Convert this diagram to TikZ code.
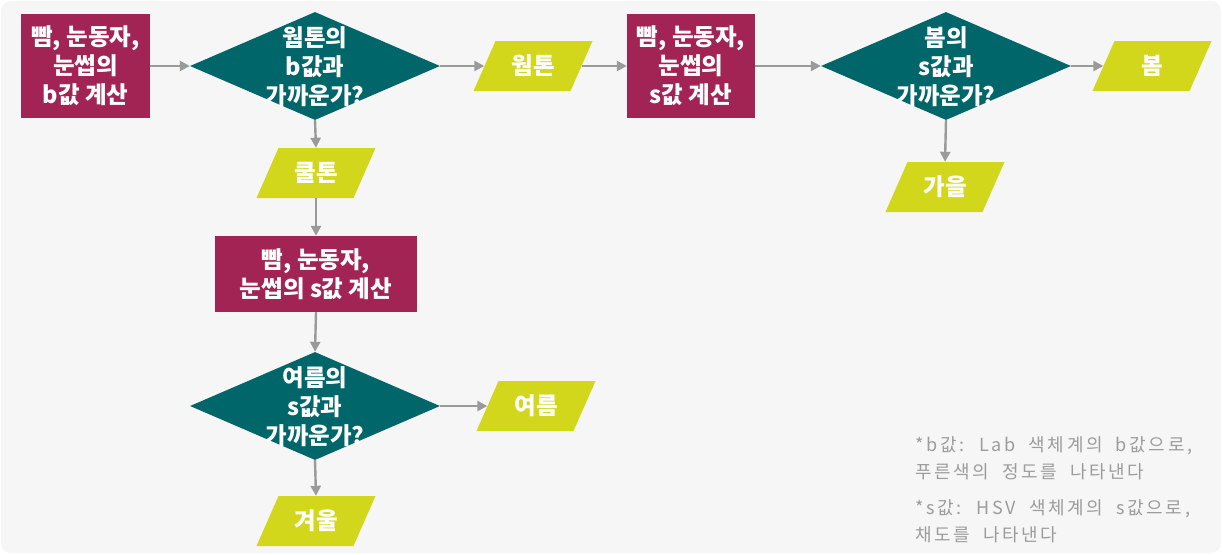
\documentclass[tikz,border=0pt]{standalone}
\usepackage{fontspec}
\setmainfont{Noto Sans CJK KR}
\newfontfamily\notefont{Noto Sans CJK KR}[LetterSpace=15,WordSpace=1.9]
\usetikzlibrary{shapes.geometric,arrows.meta}
\definecolor{magbox}{HTML}{A12454}
\definecolor{tealdia}{HTML}{00666A}
\definecolor{limepar}{HTML}{D3D71C}
\definecolor{arrgray}{HTML}{9A9A9A}
\definecolor{bggray}{HTML}{F6F6F6}
\definecolor{notegray}{HTML}{9C9C9C}
\tikzset{
  lbl/.style={text=white, font=\bfseries\fontsize{23.5}{29}\selectfont, align=center, inner sep=0pt},
  boxnode/.style={lbl, fill=magbox},
  dianode/.style={diamond, fill=tealdia, minimum width=250pt, minimum height=108pt, inner sep=0pt},
  paranode/.style={lbl, minimum width=119pt, minimum height=50pt,
    path picture={\fill[limepar] (path picture bounding box.south west) -- ++(97pt,0pt)
      -- (path picture bounding box.north east) -- ++(-97pt,0pt) -- cycle;}},
  conn/.style={draw=arrgray, line width=2.4pt, -{Triangle[length=10pt,width=10pt]}},
  notetxt/.style={text=notegray, font=\notefont\fontsize{18}{20}\selectfont, anchor=west, inner sep=0pt}
}
\begin{document}
\begin{tikzpicture}[x=1pt,y=-1pt]
\useasboundingbox (0,0) rectangle (1222,554);
\fill[white] (0,0) rectangle (1222,554);
\fill[bggray, rounded corners=10pt] (1,1) rectangle (1221,553);

\node[boxnode, minimum width=129pt, minimum height=104pt] (b1) at (85.5,66) {빰, 눈동자,\\눈썹의\\b값 계산};
\node[dianode] (d1) at (315,66) {};
\node[lbl] (t1) at (315,67) {웜톤의\\b값과\\가까운가?};
\node[paranode] (warm) at (533,66) {웜톤};
\node[boxnode, minimum width=128pt, minimum height=104pt] (b2) at (691,66) {빰, 눈동자,\\눈썹의\\s값 계산};
\node[dianode] (d3) at (946,66) {};
\node[lbl] (t3) at (946,67) {봄의\\s값과\\가까운가?};
\node[paranode] (spring) at (1152,66) {봄};
\node[paranode] (autumn) at (945,187) {가을};

\node[paranode] (cool) at (316,173) {쿨톤};
\node[boxnode, minimum width=202pt, minimum height=76pt] (b3) at (316,274) {빰, 눈동자,\\눈썹의 s값 계산};
\node[dianode] (d2) at (315,406) {};
\node[lbl] (t2) at (315,407) {여름의\\s값과\\가까운가?};
\node[paranode] (summer) at (536,406) {여름};
\node[paranode] (winter) at (316,521) {겨울};

\draw[conn] (b1.east) -- (d1.west);
\draw[conn] (d1.east) -- ([xshift=11pt]warm.west);
\draw[conn] ([xshift=-11pt]warm.east) -- (b2.west);
\draw[conn] (b2.east) -- (d3.west);
\draw[conn] (d3.east) -- ([xshift=11pt]spring.west);
\draw[conn] (d3.south) -- (autumn.north);
\draw[conn] (d1.south) -- (cool.north);
\draw[conn] (cool.south) -- (b3.north);
\draw[conn] (b3.south) -- (d2.north);
\draw[conn] (d2.east) -- ([xshift=11pt]summer.west);
\draw[conn] (d2.south) -- (winter.north);

\node[notetxt] (n1) at (915,446) {*b값: Lab 색체계의 b값으로,};
\node[notetxt] (n2) at (915,472) {푸른색의 정도를 나타낸다};
\node[notetxt] (n3) at (915,509) {*s값: HSV 색체계의 s값으로,};
\node[notetxt] (n4) at (915,535) {채도를 나타낸다};
\end{tikzpicture}
\end{document}
